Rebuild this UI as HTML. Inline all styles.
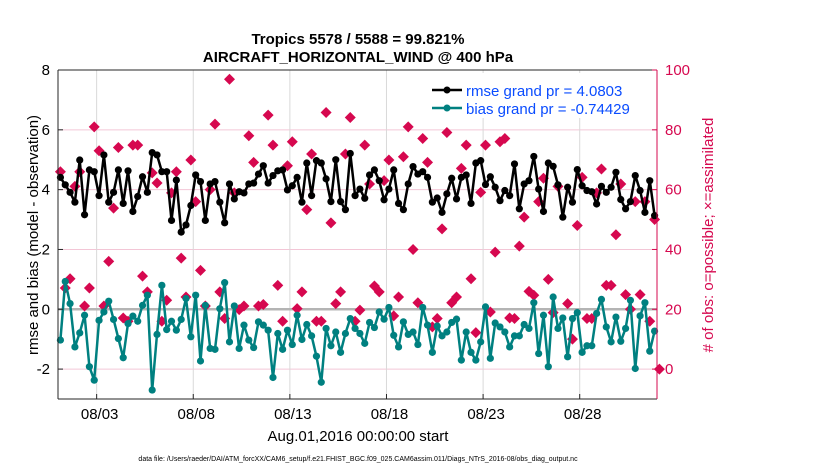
<!DOCTYPE html>
<html><head><meta charset="utf-8"><style>
html,body{margin:0;padding:0;background:#fff;}
svg{display:block;font-family:"Liberation Sans",Arial,sans-serif;}
</style></head><body>
<svg id="chart" width="830" height="470" viewBox="0 0 830 470">
<text x="358" y="44" text-anchor="middle" font-size="15" font-weight="bold">Tropics 5578 / 5588 = 99.821%</text>
<text x="358" y="62" text-anchor="middle" font-size="15" font-weight="bold">AIRCRAFT_HORIZONTAL_WIND @ 400 hPa</text>
<g id="grid"></g>
<g id="marks"></g>
<g id="axes"></g>
<g>
<rect x="420" y="73" width="236" height="45" fill="#fff" stroke="none"/>
<g>
<line x1="432" y1="90" x2="462" y2="90" stroke="#000" stroke-width="2.5"/><circle cx="447" cy="90" r="3.5" fill="#000"/>
<text x="466" y="96" font-size="15" fill="#0a4cff">rmse grand pr = 4.0803</text></g>
<g>
<line x1="432" y1="108" x2="462" y2="108" stroke="#008080" stroke-width="2.5"/><circle cx="447" cy="108" r="3.5" fill="#008080"/>
<text x="466" y="114" font-size="15" fill="#0a4cff">bias grand pr = -0.74429</text></g>
</g>
<text transform="translate(38,235) rotate(-90)" text-anchor="middle" font-size="15">rmse and bias (model - observation)</text>
<text transform="translate(713,235) rotate(-90)" text-anchor="middle" font-size="15" fill="#d6084f"># of obs: o=possible; ×=assimilated</text>
<text x="358" y="441" text-anchor="middle" font-size="15">Aug.01,2016 00:00:00 start</text>
<text x="358" y="461" text-anchor="middle" font-size="7">data file: /Users/raeder/DAI/ATM_forcXX/CAM6_setup/f.e21.FHIST_BGC.f09_025.CAM6assim.011/Diags_NTrS_2016-08/obs_diag_output.nc</text>
</svg>
<script>
const rmseValues=[4.41,4.16,3.91,3.58,4.99,3.16,4.66,4.6,3.8,5.16,3.58,3.91,4.66,3.54,4.63,3.27,3.77,4.43,3.91,5.24,5.16,4.6,4.6,2.97,4.32,2.58,2.82,3.47,4.49,4.27,2.97,4.19,
4.27,3.58,2.89,4.19,3.69,3.93,3.89,4.19,4.22,4.52,4.8,4.22,4.47,4.63,4.66,3.99,4.13,4.41,3.58,4.89,3.8,4.97,4.89,4.36,3.6,5.0,3.6,3.33,5.21,3.8,4.02,
3.71,4.49,4.66,4.3,3.66,4.02,4.66,3.54,3.33,4.19,4.77,4.52,4.6,4.41,3.58,3.72,3.24,3.86,4.38,3.69,4.41,4.49,3.54,4.89,4.97,4.17,4.43,4.08,3.63,3.97,3.8,
4.86,3.36,4.19,4.3,5.11,4.02,3.27,4.89,4.78,4.16,3.08,4.08,3.58,4.67,4.13,3.97,3.93,3.52,4.11,3.91,4.08,4.58,3.67,3.36,3.6,4.47,3.97,3.24,4.3,3.13];
const biasValues=[-1.03,0.93,0.19,-1.26,-0.79,-0.2,-1.92,-2.37,-0.37,-0.09,0.27,-0.34,-0.98,-1.62,-0.48,-0.23,-0.4,0.13,0.47,-2.7,-0.84,0.8,-0.68,-0.4,-0.7,-0.34,0.36,-0.92,0.47,-1.73,0.13,-1.31,
-1.34,0.02,0.89,-1.09,0.11,-1.31,-0.53,-1.03,-1.28,-0.42,-0.53,-0.7,-2.28,-0.81,-1.34,-0.7,-1.18,-0.2,-1.01,-0.51,-0.89,-1.57,-2.44,-0.64,-1.22,-0.76,-1.44,-0.81,-0.31,-0.64,-0.81,
-1.14,-0.44,-0.61,-0.09,-0.33,0.06,-0.87,-1.26,-0.42,-0.84,-0.76,-1.18,0.06,-0.53,-1.44,-0.56,-0.89,-0.76,-0.44,-0.33,-1.7,-0.76,-1.44,-1.7,-1.09,0.08,-1.64,-0.46,-0.59,-0.76,-1.26,
-0.89,-0.89,-0.51,-0.64,0.22,-1.48,-0.2,-1.92,0.41,-0.64,-0.29,-1.59,-0.31,-0.11,-1.44,-1.22,-1.22,-0.14,0.33,-0.59,-1.09,-0.26,-1.07,-0.64,0.3,-1.98,-0.22,0.22,-1.4,-0.73];
const obsCounts=[66,27.1,30.2,61.1,66,21.1,27.1,81,73,21.1,36,53.8,74.1,17.1,16,74.9,74.9,31.1,25.8,65.6,62.2,16,23,58.9,66,37.1,24.1,69.9,56,33,21.1,60,
81.9,25.8,16.9,96.9,58.9,19.9,21.1,78,69.1,21.1,21.6,84.9,74.9,28,16,68,76,20.2,25.8,53.3,71.9,16,16,85.8,48.9,21.9,25.8,71.9,84.1,16,19.7,
74.9,61.9,27.8,25.8,63,69.9,17.8,24.1,71,81,40,22.2,77.1,69.1,14.1,16.9,46.9,79.1,22.2,24.1,67.1,74.9,30.2,12.2,59.1,74.9,19.1,39.1,76,77.1,17.1,
16.9,41.1,50.8,26,24.7,56,63.8,30,18.9,61.1,89.1,21.9,10,48,64.1,16.9,16.9,58.9,66.9,28,28,44.9,61.9,24.9,20,56,24.9,56,16,50,0];
const leftTicks=[-2,0,2,4,6,8];
const rightTicks=[0,20,40,60,80,100];
const xTickDays=[2,7,12,17,22,27];
const xTickLabels=["08/03","08/08","08/13","08/18","08/23","08/28"];

const X0=58,X1=657,Y0=70,Y1=399;
const xs=d=>X0+(d-0)/(31-0)*(X1-X0);
const yL=v=>Y1-(v-(-3))/(8-(-3))*(Y1-Y0);
const yR=v=>Y1-(v-(-10))/(100-(-10))*(Y1-Y0);
const NS="http://www.w3.org/2000/svg";
function mk(tag,attrs,parent){const e=document.createElementNS(NS,tag);for(const k in attrs)e.setAttribute(k,attrs[k]);parent.appendChild(e);return e;}
const grid=document.getElementById('grid'),marks=document.getElementById('marks'),axes=document.getElementById('axes');
mk('rect',{x:X0,y:Y0,width:X1-X0,height:Y1-Y0,fill:'#fff'},grid);
rightTicks.forEach(t=>{const l=mk('line',{x1:X0,x2:X1,y1:yR(t),y2:yR(t),stroke:'#f3c6d6','stroke-width':1},grid);

});
xTickDays.forEach(d=>{const l=mk('line',{x1:xs(d),x2:xs(d),y1:Y0,y2:Y1,stroke:'#d9d9d9','stroke-width':1},grid);

});
const zl=mk('line',{x1:X0,x2:X1,y1:yL(0),y2:yL(0),stroke:'#b4b4b4','stroke-width':2.5},grid);


const tOf=i=>i*0.25+0.125;
function series(vals,color,name){
  const p=vals.map((v,i)=>xs(tOf(i)).toFixed(1)+','+yL(v).toFixed(1)).join(' ');
  const pl=mk('polyline',{points:p,fill:'none',stroke:color,'stroke-width':2.5,'stroke-linejoin':'round'},marks);
  
  
  vals.forEach((v,i)=>{const c=mk('circle',{cx:xs(tOf(i)),cy:yL(v),r:3.6,fill:color},marks);
  
  });
}
obsCounts.forEach((v,i)=>{const x=xs(tOf(i)),y=yR(v);
  const d=mk('path',{d:`M${x-5.5},${y}L${x},${y-5.5}L${x+5.5},${y}L${x},${y+5.5}Z`,fill:'#d6084f'},marks);
  
  });
series(rmseValues,'#000','rmse');
series(biasValues,'#008080','bias');
mk('line',{x1:X0,x2:X1,y1:Y0,y2:Y0,stroke:'#262626','stroke-width':1},axes);
mk('line',{x1:X0,x2:X1,y1:Y1,y2:Y1,stroke:'#262626','stroke-width':1},axes);
mk('line',{x1:X0,x2:X0,y1:Y0,y2:Y1,stroke:'#262626','stroke-width':1},axes);
mk('line',{x1:X1,x2:X1,y1:Y0,y2:Y1,stroke:'#d6084f','stroke-width':1},axes);
leftTicks.forEach(t=>{mk('line',{x1:X0,x2:X0+5,y1:yL(t),y2:yL(t),stroke:'#262626'},axes);
  const tx=mk('text',{x:X0-8,y:yL(t)+5,'text-anchor':'end','font-size':15},axes);tx.textContent=t;
  
  });
rightTicks.forEach(t=>{mk('line',{x1:X1-5,x2:X1,y1:yR(t),y2:yR(t),stroke:'#d6084f'},axes);
  const tx=mk('text',{x:X1+8,y:yR(t)+5,'font-size':15,fill:'#d6084f'},axes);tx.textContent=t;
  
  });
xTickDays.forEach((d,i)=>{mk('line',{x1:xs(d),x2:xs(d),y1:Y1-5,y2:Y1,stroke:'#262626'},axes);
  const tx=mk('text',{x:xs(d)+3,y:Y1+20,'text-anchor':'middle','font-size':15},axes);tx.textContent=xTickLabels[i];
  
  });
</script>
</body></html>
